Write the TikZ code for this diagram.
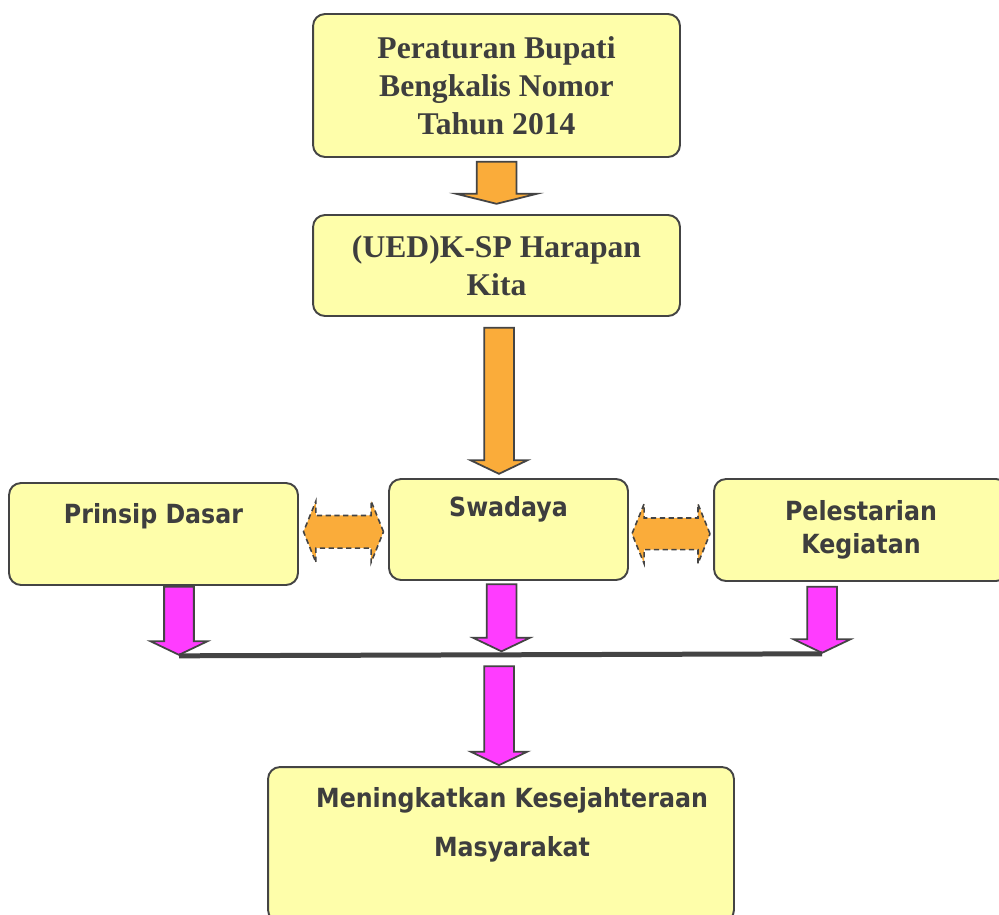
\documentclass[tikz,border=0pt]{standalone}
\usepackage{fontspec}
\setmainfont{Liberation Serif}
\newfontfamily\boxsans{DejaVu Sans Condensed}
\usetikzlibrary{
    arrows.meta,
    positioning,
    calc,
    shapes.arrows
}
\definecolor{boxFill}{RGB}{254,254,170}
\definecolor{boxLine}{RGB}{68,68,68}
\definecolor{txtGray}{RGB}{62,62,62}
\definecolor{arrOrange}{RGB}{250,172,58}
\definecolor{arrPink}{RGB}{255,60,255}
\tikzset{
  box/.style     = {draw=boxLine, line width=1.1pt, fill=boxFill,
                    rounded corners=0.24cm, inner sep=0pt},
  stxt/.style    = {align=center, text=txtGray,
                    font=\fontsize{18}{21.5}\selectfont\bfseries},
  btxt/.style    = {align=center, text=txtGray,
                    font=\boxsans\fontsize{15}{19}\selectfont\bfseries},
  downarr/.style = {single arrow, rotate=-90, draw=boxLine, line width=1pt,
                    inner xsep=0pt, single arrow head indent=0pt},
  oarr/.style    = {downarr, fill=arrOrange},
  parr/.style    = {downarr, fill=arrPink, inner ysep=0.28cm,
                    single arrow head extend=0.27cm, single arrow tip angle=129},
  link/.style    = {double arrow, draw=boxLine, dash pattern=on 3pt off 2pt,
                    line width=0.9pt, fill=arrOrange, inner xsep=0pt, inner ysep=0.31cm,
                    double arrow head indent=0pt, double arrow tip angle=136,
                    double arrow head extend=0.29cm},
  bar/.style     = {line width=0.1cm, draw=boxLine}
}

\begin{document}
\begin{tikzpicture}[x=0.02cm, y=-0.02cm]
  \useasboundingbox (0,0) rectangle (999,914);
  \clip (0,0) rectangle (999,914);
  \fill[white] (0,0) rectangle (999,914);

  % boxes
  \node[box, stxt, minimum width=7.34cm, minimum height=2.86cm] (law) at (496.5,85.5)
       {Peraturan Bupati\\Bengkalis Nomor\\Tahun 2014};
  \node[box, stxt, minimum width=7.34cm, minimum height=2.02cm] (ued) at (496.5,265.5)
       {(UED)K-SP Harapan\\Kita};
  \node[box, minimum width=5.78cm, minimum height=2.04cm] (pd) at (153.5,534) {};
  \node[box, minimum width=4.78cm, minimum height=2.02cm] (swa) at (508.5,529.5) {};
  \node[box, btxt, minimum width=5.88cm, minimum height=2.04cm] (pel) at (861,530)
       {Pelestarian\\Kegiatan};
  \node[box, minimum width=9.32cm, minimum height=3.1cm] (mk) at (501,844.5) {};

  \node[btxt] (pdt) at ([yshift=-0.68cm]pd.north) {Prinsip Dasar};
  \node[btxt] (swat) at ([yshift=-0.62cm]swa.north) {Swadaya};
  \node[btxt, font=\boxsans\fontsize{15}{28}\selectfont\bfseries] (mkt)
       at ([xshift=0.22cm, yshift=-1.17cm]mk.north) {Meningkatkan Kesejahteraan\\Masyarakat};

  % orange arrows
  \node[oarr, minimum height=0.84cm, inner ysep=0.38cm, single arrow head extend=0.41cm,
        single arrow tip angle=152, anchor=tail] (a1) at ([yshift=-0.06cm]law.south) {};
  \node[oarr, minimum height=2.92cm, inner ysep=0.28cm, single arrow head extend=0.27cm,
        single arrow tip angle=129, anchor=tail] (a2) at ([xshift=0.05cm, yshift=-0.2cm]ued.south) {};
  \node[link, minimum height=1.6cm] (l1) at ($(pd.east)!0.5!(swa.west)$) {};
  \node[link, minimum height=1.56cm, inner ysep=0.3cm, double arrow head extend=0.28cm] (l2)
       at ([yshift=-0.08cm]$(swa.east)!0.5!(pel.west)$) {};

  % pink arrows
  \node[parr, minimum height=1.36cm, anchor=tail] (a3) at ([xshift=0.51cm]pd.south) {};
  \node[parr, minimum height=1.34cm, anchor=tail] (a4) at ([xshift=-0.14cm, yshift=-0.05cm]swa.south) {};
  \node[parr, minimum height=1.32cm, anchor=tail] (a5) at ([xshift=-0.78cm, yshift=-0.08cm]pel.south) {};
  \draw[bar] (a3.tip) -- (a5.tip);
  \node[parr, minimum height=1.98cm, anchor=tail] (a6) at ([xshift=-0.05cm, yshift=-0.26cm]a4.tip) {};
\end{tikzpicture}
\end{document}
